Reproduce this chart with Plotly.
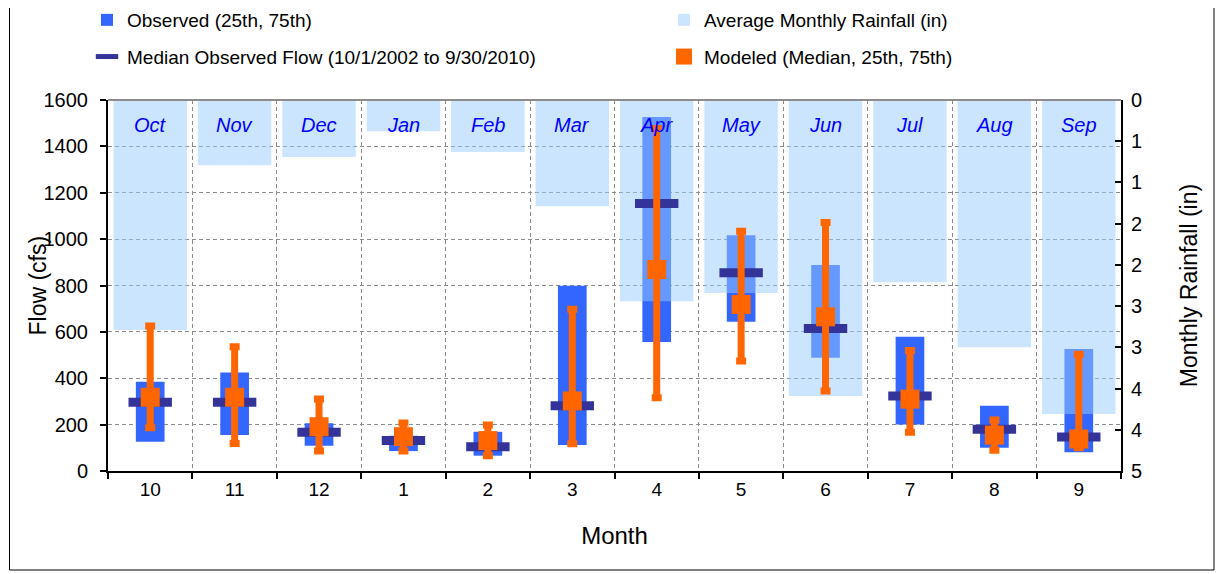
import plotly.graph_objects as go

# ---- data ----
months = ["10", "11", "12", "1", "2", "3", "4", "5", "6", "7", "8", "9"]
month_names = ["Oct", "Nov", "Dec", "Jan", "Feb", "Mar", "Apr", "May", "Jun", "Jul", "Aug", "Sep"]
obs_p25 = [126, 155, 109, 86, 66, 112, 556, 644, 488, 201, 100, 81]
obs_p75 = [385, 425, 206, 152, 169, 799, 1527, 1017, 888, 579, 281, 526]
obs_median = [296, 296, 167, 132, 105, 281, 1154, 855, 615, 323, 180, 147]
mod_median = [318, 318, 191, 148, 131, 302, 869, 718, 665, 310, 155, 138]
mod_p25 = [187, 119, 86, 86, 66, 118, 316, 474, 345, 167, 90, 100]
mod_p75 = [625, 536, 310, 207, 198, 698, 1477, 1034, 1072, 520, 220, 503]
rainfall = [2.79, 0.79, 0.69, 0.38, 0.63, 1.29, 2.44, 2.34, 3.59, 2.21, 3.00, 3.81]

# ---- layout geometry, in page pixels (the page body has an 8px margin) ----
W, H = 1224, 574
OFF = 8
PL, PR, PT, PB = 108 - OFF, 1121 - OFF, 100 - OFF, 471 - OFF


def px_x(page_x):
    return (page_x - OFF - PL) / (PR - PL)


def px_y(page_y):
    return (PB - (page_y - OFF)) / (PB - PT)


FONT = "Liberation Sans, Arial, sans-serif"

obs_height = [hi - lo for lo, hi in zip(obs_p25, obs_p75)]
err_plus = [hi - m for hi, m in zip(mod_p75, mod_median)]
err_minus = [m - lo for lo, m in zip(mod_p25, mod_median)]

fig = go.Figure()

fig.add_trace(go.Bar(
    x=months, y=obs_height, base=obs_p25, width=0.34,
    name="Observed (25th, 75th)", legend="legend", legendgroup="obs",
    marker=dict(color="#3366FF", line=dict(width=0)),
    yaxis="y", hoverinfo="skip",
))

fig.add_trace(go.Bar(
    x=months, y=rainfall, width=0.87,
    name="Average Monthly Rainfall (in)", legend="legend2", legendgroup="rain",
    marker=dict(color="rgba(153,204,255,0.5)", line=dict(width=0)),
    yaxis="y2", hoverinfo="skip",
))

fig.add_trace(go.Scatter(
    x=months, y=obs_median, mode="markers",
    name="Median Observed Flow (10/1/2002 to 9/30/2010)", legend="legend", legendgroup="med",
    marker=dict(symbol="line-ew", size=31, line=dict(width=9, color="#333399"), color="#333399"),
    yaxis="y3", hoverinfo="skip",
))

fig.add_trace(go.Scatter(
    x=months, y=mod_median, mode="markers",
    name="Modeled (Median, 25th, 75th)", legend="legend2", legendgroup="mod",
    marker=dict(symbol="square", size=19, color="#FF6600"),
    error_y=dict(type="data", symmetric=False, array=err_plus, arrayminus=err_minus,
                 color="#FF6600", thickness=7, width=5),
    yaxis="y3", hoverinfo="skip",
))

grid_kw = dict(showgrid=True, gridcolor="#8c8c8c", gridwidth=1, griddash="4px,3px")

annotations = [
    dict(x=i, y=1, xref="x", yref="paper", yanchor="top", yshift=-12,
         text="<i>%s</i>" % name, showarrow=False,
         font=dict(family=FONT, size=20, color="#0000FF"))
    for i, name in enumerate(month_names)
]
# left axis title (overlaps the tick labels slightly, as in the original)
annotations.append(dict(
    x=px_x(37), y=0.5, xref="paper", yref="paper", xanchor="center", yanchor="middle",
    text="Flow (cfs)", textangle=-90, showarrow=False,
    font=dict(family=FONT, size=23, color="black"),
))

fig.update_layout(
    width=W, height=H,
    margin=dict(l=PL, r=W - PR, t=PT, b=H - PB, autoexpand=False),
    paper_bgcolor="white", plot_bgcolor="white",
    barmode="overlay",
    font=dict(family=FONT, size=18, color="black"),
    xaxis=dict(
        type="category", categoryorder="array", categoryarray=months,
        range=[-0.5, len(months) - 0.5],
        tickson="boundaries", ticks="outside", ticklen=6, tickwidth=2, tickcolor="black",
        showline=True, linecolor="black", linewidth=2,
        tickfont=dict(size=19),
        title=dict(text="Month", font=dict(size=24), standoff=28),
        **grid_kw,
    ),
    yaxis=dict(
        range=[0, 1600], dtick=200, ticks="outside", ticklen=6, tickwidth=2, tickcolor="black",
        showline=True, linecolor="black", linewidth=2, zeroline=False,
        tickfont=dict(size=20), ticklabelstandoff=8,
        **grid_kw,
    ),
    yaxis2=dict(
        overlaying="y", side="right", range=[4.5, 0], dtick=0.5, tickformat=".0f",
        ticks="inside", ticklen=6, tickwidth=2, tickcolor="black",
        showline=True, linecolor="black", linewidth=2, showgrid=False, zeroline=False,
        tickfont=dict(size=20), ticklabelstandoff=4,
        title=dict(text="Monthly Rainfall (in)", font=dict(size=23), standoff=40),
    ),
    yaxis3=dict(overlaying="y", range=[0, 1600], visible=False),
    legend=dict(x=px_x(87), y=px_y(1), xanchor="left", yanchor="top",
                orientation="v", tracegroupgap=9, bgcolor="rgba(0,0,0,0)",
                font=dict(size=19)),
    legend2=dict(x=px_x(664), y=px_y(1), xanchor="left", yanchor="top",
                 orientation="v", tracegroupgap=9, bgcolor="rgba(0,0,0,0)",
                 font=dict(size=19)),
    annotations=annotations,
    shapes=[
        dict(type="line", xref="paper", yref="paper", x0=0, x1=1, y0=1, y1=1,
             line=dict(color="#8c8c8c", width=2), layer="above"),
        dict(type="rect", xref="paper", yref="paper",
             x0=px_x(9.5), x1=px_x(1214), y0=px_y(570), y1=px_y(-20),
             line=dict(color="black", width=1), layer="below"),
    ],
)

fig.write_html("out.html")
